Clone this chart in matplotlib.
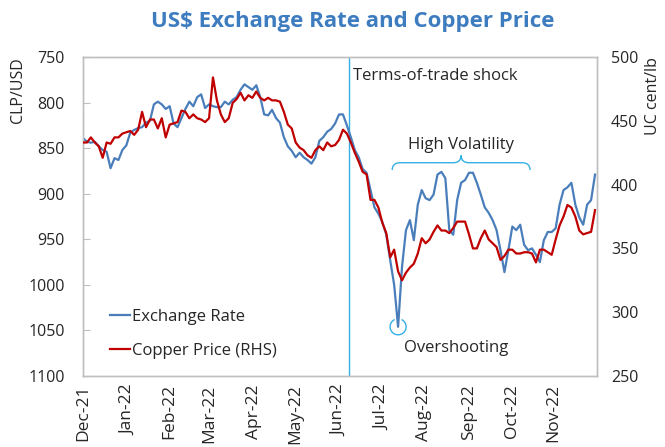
import numpy as np
import pandas as pd
import matplotlib
matplotlib.use("Agg")
import matplotlib.pyplot as plt
from matplotlib.path import Path
from matplotlib.patches import PathPatch, Arc
from matplotlib.transforms import ScaledTranslation

plt.rcParams['font.family'] = ['Open Sans', 'DejaVu Sans']

# ---------------- data (every 2nd business day) ----------------
all_days = pd.bdate_range("2021-12-01", "2022-11-30")
step = 2

exchange_rate = [
    839, 843, 844, 843, 848, 852, 854, 872, 861, 863,
    852, 847, 833, 830, 828, 827, 822, 820, 802, 799,
    802, 807, 804, 823, 827, 817, 807, 799, 804, 794,
    791, 806, 802, 804, 805, 805, 799, 802, 797, 794,
    786, 780, 783, 786, 781, 794, 813, 814, 808, 817,
    822, 838, 848, 853, 860, 855, 860, 863, 867, 860,
    842, 838, 832, 829, 823, 813, 813, 825, 838, 852,
    860, 873, 877, 896, 915, 922, 931, 945, 973, 1000,
    1046, 980, 940, 929, 951, 912, 896, 905, 907, 901,
    879, 876, 883, 940, 945, 907, 888, 885, 877, 877,
    888, 901, 915, 921, 929, 940, 962, 986, 962, 936,
    940, 934, 956, 962, 960, 967, 975, 951, 942, 942,
    938, 912, 896, 893, 888, 912, 926, 934, 912, 907,
    879,
]

copper_price = [
    433, 433, 437, 433, 430, 421, 433, 432, 437, 437,
    440, 441, 442, 439, 443, 457, 445, 451, 451, 444,
    452, 437, 447, 448, 449, 458, 457, 452, 455, 452,
    451, 449, 452, 484, 466, 455, 449, 452, 464, 467,
    472, 466, 470, 468, 473, 468, 466, 468, 466, 466,
    465, 457, 447, 444, 433, 429, 427, 423, 421, 427,
    430, 427, 433, 430, 431, 435, 443, 440, 433, 425,
    418, 410, 408, 388, 388, 382, 370, 362, 343, 349,
    332, 325, 331, 335, 338, 346, 358, 354, 357, 363,
    368, 364, 364, 362, 366, 371, 371, 371, 361, 350,
    350, 358, 364, 357, 354, 351, 341, 344, 349, 349,
    346, 346, 347, 347, 346, 339, 349, 349, 347, 345,
    357, 368, 375, 384, 382, 375, 364, 361, 362, 363,
    380,
]

left_ticks = [750, 800, 850, 900, 950, 1000, 1050, 1100]
right_ticks = [250, 300, 350, 400, 450, 500]
shock_date = "2022-06-08"

# ---------------- positions ----------------
pos_all = np.arange(len(all_days))
x = pos_all[::step][:len(exchange_rate)]
month_first = [i for i in range(len(all_days)) if i == 0 or all_days[i].month != all_days[i - 1].month]
month_labels = [all_days[i].strftime("%b-%y") for i in month_first]
shock_x = int(np.searchsorted(all_days, pd.Timestamp(shock_date)))

blue = "#4A7EBB"
red = "#C00000"
light = "#35B0E4"
grey = "#BFBFBF"
txt = "#262626"

fig = plt.figure(figsize=(6.65, 4.47), dpi=100)
ax = fig.add_axes([83 / 665, 1 - 376 / 447, (597 - 83) / 665, (376 - 57) / 447])
ax2 = ax.twinx()

l1, = ax.plot(x, exchange_rate, color=blue, lw=1.6, label="Exchange Rate", zorder=3)
l2, = ax2.plot(x, copper_price, color=red, lw=1.6, label="Copper Price (RHS)", zorder=3)

ax.set_ylim(1100, 750)
ax.set_yticks(left_ticks)
ax2.set_ylim(250, 500)
ax2.set_yticks(right_ticks)
ax.set_xlim(0, len(all_days))
ax.set_xticks(month_first)
ax.set_xticklabels(month_labels, rotation=90, fontsize=12.5, color=txt)

for a in (ax, ax2):
    for s in a.spines.values():
        s.set_color(grey)
        s.set_linewidth(1.0)
ax.tick_params(axis='y', direction='in', length=5, color=grey, labelsize=11.5, labelcolor=txt, pad=13)
ax.tick_params(axis='x', length=0, pad=6)
ax2.tick_params(axis='y', length=0, labelsize=11.5, labelcolor=txt, pad=10)

ax.set_ylabel("CLP/USD", loc="top", fontsize=11.5, color=txt, labelpad=2)
ax2.set_ylabel("UC cent/lb", loc="top", fontsize=11.5, color=txt, labelpad=5)

fig.suptitle("US$ Exchange Rate and Copper Price", x=0.53, y=0.975, fontsize=16,
             fontweight="bold", color="#3E7CC0")

# shock line
ax.axvline(shock_x, color=light, lw=1.0, zorder=2)
ax.text(shock_x + 2, 771, "Terms-of-trade shock", fontsize=12, color=txt, va="center", ha="left")

# high volatility brace
bx0, bx1, bxc = 157, 227, 192
by, byend, bytip = 866, 874, 858
verts = [(bx0, byend), (bx0, by), (bx0 + 4, by), (bxc - 4, by), (bxc, by), (bxc, bytip),
         (bxc, by), (bxc + 4, by), (bx1 - 4, by), (bx1, by), (bx1, byend)]
codes = [Path.MOVETO, Path.CURVE3, Path.CURVE3, Path.LINETO, Path.CURVE3, Path.CURVE3,
         Path.CURVE3, Path.CURVE3, Path.LINETO, Path.CURVE3, Path.CURVE3]
ax.add_patch(PathPatch(Path(verts, codes), fill=False, edgecolor=light, lw=1.0))
ax.text(bxc, 847, "High Volatility", fontsize=12, color=txt, ha="center", va="center")

# overshooting circle
imin = int(np.argmax(exchange_rate))
arc = Arc((0, 0), 0.16, 0.16, theta1=115, theta2=65, color=light, lw=1.0,
          transform=fig.dpi_scale_trans + ScaledTranslation(x[imin], exchange_rate[imin], ax.transData))
ax.add_patch(arc)
ax.text(x[imin] + 3, 1069, "Overshooting", fontsize=12, color=txt, ha="left", va="center")

leg = ax.legend(handles=[l1, l2], loc="upper left", bbox_to_anchor=(0.052, 0.21), frameon=False,
                fontsize=12, handlelength=1.2, handletextpad=0.15, labelspacing=1.05, borderpad=0,
                borderaxespad=0)
for t in leg.get_texts():
    t.set_color(txt)

fig.savefig("out.png", dpi=100)
